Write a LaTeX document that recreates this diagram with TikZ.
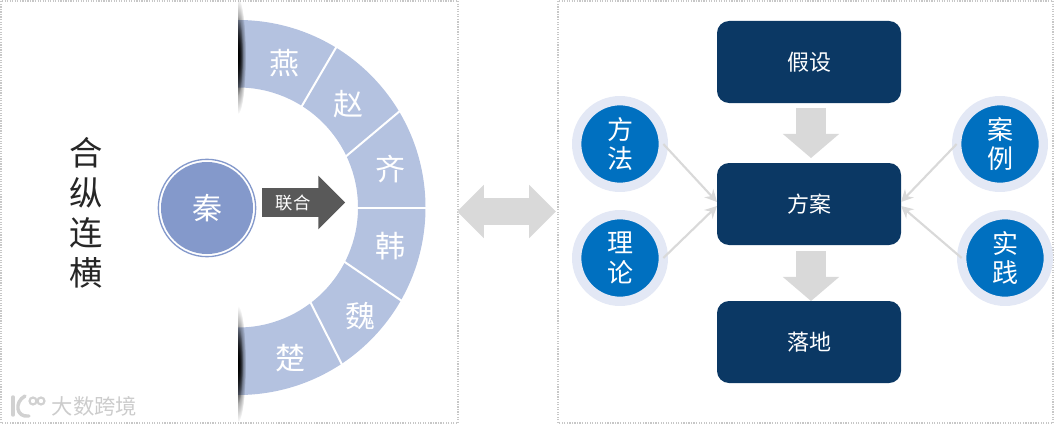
\documentclass[tikz,border=0pt]{standalone}
\usepackage{fontspec}
\newfontfamily\cjk{Noto Sans CJK SC}
\usetikzlibrary{positioning,arrows.meta,calc,shapes.arrows,fadings}
\definecolor{ringblue}{HTML}{B4C2E0}
\definecolor{qinblue}{HTML}{8499CB}
\definecolor{navy}{HTML}{0B3864}
\definecolor{ballblue}{HTML}{0070C0}
\definecolor{ballrim}{HTML}{E3E8F5}
\definecolor{pale}{HTML}{D9D9D9}
\tikzfading[name=softlens, inner color=transparent!0, outer color=transparent!100]

\begin{document}
\begin{tikzpicture}[
    x=0.75pt, y=0.75pt,
    font=\cjk,
    panel/.style={draw=black!22, densely dotted, line width=0.9pt},
    flow/.style={fill=navy, text=white, rounded corners=9pt, outer sep=0pt,
                 minimum width=138pt, minimum height=61.5pt, inner sep=0pt,
                 font=\fontsize{16.5}{20}\cjk},
    ball/.style={circle, fill=ballblue, draw=ballrim, line width=7pt, text=white,
                 minimum size=65pt, inner sep=0pt, align=center, outer sep=0pt,
                 font=\fontsize{19.5}{22}\cjk},
    state/.style={text=white, inner sep=0pt, font=\fontsize{22.5}{26}\cjk},
    downarrow/.style={single arrow, fill=pale, shape border rotate=270,
                      inner xsep=10.9pt, inner ysep=0pt, outer sep=0pt,
                      minimum width=42pt, minimum height=37.5pt,
                      single arrow head extend=10pt, single arrow tip angle=99},
    feed/.style={-{Stealth[length=9pt,width=9pt]}, draw=black!15, line width=1.6pt},
    edgeshade/.style={black, path fading=softlens},
  ]
  % --- dotted panels ---
  \draw[panel] (1,3) rectangle (458,425);
  \draw[panel] (558,3) rectangle (1053,425);
  \useasboundingbox (0,0) rectangle (1055,426);

  % --- half ring ---
  \coordinate (ctr) at (238,218.5);
  \fill[ringblue] (ctr) ++(90:187.5) arc (90:-90:187.5) -- ++(0,67.5) arc (-90:90:120) -- cycle;
  \foreach \ain/\aout in {57.8/58.5,25.3/30.8,0/0,-27/-29.7,-52.6/-56.5}
    \draw[white, line width=1.5pt] ($(ctr)+(\ain:119)$) -- ($(ctr)+(\aout:188.5)$);

  % --- dark edges where the ring meets the page ---
  \begin{scope}
    \clip (238,0) rectangle (260,426);
    \fill[edgeshade] (238,370) ellipse (8 and 58);
    \fill[edgeshade] (238,370) ellipse (5 and 40);
    \fill[edgeshade] (238,62) ellipse (8 and 58);
    \fill[edgeshade] (238,62) ellipse (5 and 40);
  \end{scope}

  % --- ring labels ---
  \node[state] (yan) at (284,363) {燕};
  \node[state] (zhao) at (348,322) {赵};
  \node[state] (qi) at (390,257) {齐};
  \node[state] (han) at (390,180) {韩};
  \node[state] (wei) at (360,110) {魏};
  \node[state] (chu) at (290,68) {楚};

  % --- centre ---
  \node[circle, draw=qinblue, line width=1pt, minimum size=73pt, inner sep=0pt] (qinrim) at (207,218) {};
  \node[circle, fill=qinblue, minimum size=69pt, inner sep=0pt, state] (qin) at (207,218) {秦};
  \node[single arrow, fill=black!65, inner xsep=0pt, inner ysep=10.5pt, outer sep=0pt,
        minimum width=39.75pt, minimum height=62.25pt,
        single arrow head extend=9.4pt, single arrow tip angle=90] (lianhe) at (296.5,223.5) {};
  \node[text=white, inner sep=0pt, font=\fontsize{13}{15}\cjk] (lianhetext) at (293,223) {联合};

  \node[align=center, inner sep=0pt, text=black!85, font=\fontsize{25}{30}\cjk] (title) at (86,213)
    {合\\纵\\连\\横};

  % --- watermark ---
  \draw[black!18, line width=2.6pt, line cap=round] (13,29) -- (13,11);
  \draw[black!18, line width=2.6pt, line cap=round] (25,30) .. controls (14,24) and (16,8) .. (29,10);
  \draw[black!18, line width=1.6pt] (33,25) circle (3.5) (41,25) circle (3.5);
  \node[text=black!20, inner sep=0pt, font=\fontsize{16}{18}\cjk] (mark) at (94.5,19.5) {大数跨境};

  % --- double arrow between panels ---
  \node[double arrow, fill=pale, inner xsep=0pt, inner ysep=9.75pt, outer sep=0pt,
        minimum width=39.75pt, minimum height=74pt,
        double arrow head extend=10pt, double arrow tip angle=90] (swap) at (506.5,214.5) {};

  % --- flow boxes ---
  \node[flow] (fangan) at (809,222) {方案};
  \node[flow, above=45pt of fangan] (jiashe) {假设};
  \node[flow, below=42pt of fangan] (luodi) {落地};

  % --- block arrows ---
  \node[downarrow, below=3.75pt of jiashe, xshift=1.5pt] (down1) {};
  \node[downarrow, below=4.5pt of fangan, xshift=1.5pt] (down2) {};

  % --- side balls ---
  \node[ball] (fangfa) at (620,282) {方\\法};
  \node[ball] (lilun) at (620,168) {理\\论};
  \node[ball] (anli) at (1000,282) {案\\例};
  \node[ball] (shijian) at (1005,168) {实\\践};

  % --- thin arrows into the middle box ---
  \coordinate (inhi) at ($(fangan.west)+(0,2)$);
  \coordinate (inlo) at ($(fangan.west)+(0,-2)$);
  \coordinate (outhi) at ($(fangan.east)+(0,2)$);
  \coordinate (outlo) at ($(fangan.east)+(0,-2)$);
  \draw[feed] (fangfa.east) -- (inhi);
  \draw[feed] (lilun.east) -- (inlo);
  \draw[feed] (anli.west) -- (outhi);
  \draw[feed] (shijian.west) -- (outlo);
\end{tikzpicture}
\end{document}
